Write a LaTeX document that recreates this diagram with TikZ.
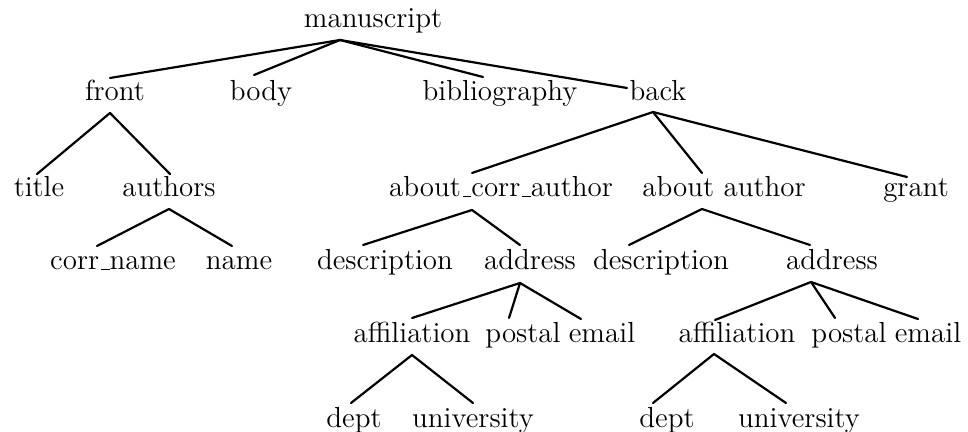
\documentclass[tikz,border=0pt]{standalone}
% a short low rule in place of the underscore glyph
\newcommand\lowbar{\leavevmode\kern.06em\vbox{\hrule width.3em height .55pt}}
\begin{document}
\begin{tikzpicture}[x=0.5pt,y=-0.5pt,
  lbl/.style={font=\fontsize{14.5}{17}\selectfont, anchor=base, inner sep=0pt},
  edge/.style={line width=1.1pt, line cap=round, line join=round}]
\useasboundingbox (0,0) rectangle (968,432);

% ---- labels (placed on their baselines) ----
\node[lbl] (manuscript) at (373,28) {manuscript};

\node[lbl] (front) at (115,101) {front};
\node[lbl] (body)  at (261,101) {body};
\node[lbl] (bib)   at (500,101) {bibliography};
\node[lbl] (back)  at (658,101) {back};

\node[lbl] (title)   at (39,197)  {title};
\node[lbl] (authors) at (169,197) {authors};
\node[lbl] (aca)     at (501,197) {about\lowbar corr\lowbar author};
\node[lbl] (aa)      at (724,197) {about author};
\node[lbl] (grant)   at (916,197) {grant};

\node[lbl] (corrname) at (113,270) {corr\lowbar name};
\node[lbl] (name)     at (239,270) {name};
\node[lbl] (descA)    at (385,270) {description};
\node[lbl] (addrA)    at (530,270) {address};
\node[lbl] (descB)    at (661,270) {description};
\node[lbl] (addrB)    at (832,270) {address};

\node[lbl] (affA)   at (412,343) {affiliation};
\node[lbl] (postA)  at (523,343) {postal};
\node[lbl] (mailA)  at (602,343) {email};
\node[lbl] (affB)   at (737,343) {affiliation};
\node[lbl] (postB)  at (849,343) {postal};
\node[lbl] (mailB)  at (928,343) {email};

\node[lbl] (deptA) at (354,427) {dept};
\node[lbl] (uniA)  at (473,427) {university};
\node[lbl] (deptB) at (667,427) {dept};
\node[lbl] (uniB)  at (799,427) {university};

% ---- attachment points: -t above a label, -b below it ----
\coordinate (manuscript-b) at (340,40);
\coordinate (front-t) at (110,78);   \coordinate (front-b) at (110,113);
\coordinate (body-t)  at (254,75);
\coordinate (bib-t)   at (483,77);
\coordinate (back-t)  at (627,88);   \coordinate (back-b) at (653,112);
\coordinate (title-t)   at (37,174);
\coordinate (authors-t) at (170,174); \coordinate (authors-b) at (169,209);
\coordinate (aca-t)   at (472,173);  \coordinate (aca-b) at (472,210);
\coordinate (aa-t)    at (702,173);  \coordinate (aa-b)  at (702,209);
\coordinate (grant-t) at (907,177);
\coordinate (corrname-t) at (97,246);
\coordinate (name-t)     at (232,246);
\coordinate (descA-t) at (363,245);
\coordinate (addrA-t) at (520,245);  \coordinate (addrA-b) at (520,283);
\coordinate (descB-t) at (629,245);
\coordinate (addrB-t) at (810,245);  \coordinate (addrB-b) at (811,282);
\coordinate (affA-t)  at (412,318);  \coordinate (affA-b) at (412,355);
\coordinate (postA-t) at (509,318);
\coordinate (mailA-t) at (581,319);
\coordinate (affB-t)  at (715,320);  \coordinate (affB-b) at (714,354);
\coordinate (postB-t) at (835,318);
\coordinate (mailB-t) at (918,319);
\coordinate (deptA-t) at (351,403);
\coordinate (uniA-t)  at (473,403);
\coordinate (deptB-t) at (653,403);
\coordinate (uniB-t)  at (786,403);

% ---- tree edges ----
\foreach \c in {front,body,bib,back}
  \draw[edge] (manuscript-b) -- (\c-t);
\foreach \c in {title,authors}
  \draw[edge] (front-b) -- (\c-t);
\foreach \c in {corrname,name}
  \draw[edge] (authors-b) -- (\c-t);
\foreach \c in {aca,aa,grant}
  \draw[edge] (back-b) -- (\c-t);
\foreach \c in {descA,addrA}
  \draw[edge] (aca-b) -- (\c-t);
\foreach \c in {descB,addrB}
  \draw[edge] (aa-b) -- (\c-t);
\foreach \c in {affA,postA,mailA}
  \draw[edge] (addrA-b) -- (\c-t);
\foreach \c in {affB,postB,mailB}
  \draw[edge] (addrB-b) -- (\c-t);
\foreach \c in {deptA,uniA}
  \draw[edge] (affA-b) -- (\c-t);
\foreach \c in {deptB,uniB}
  \draw[edge] (affB-b) -- (\c-t);
\end{tikzpicture}
\end{document}
